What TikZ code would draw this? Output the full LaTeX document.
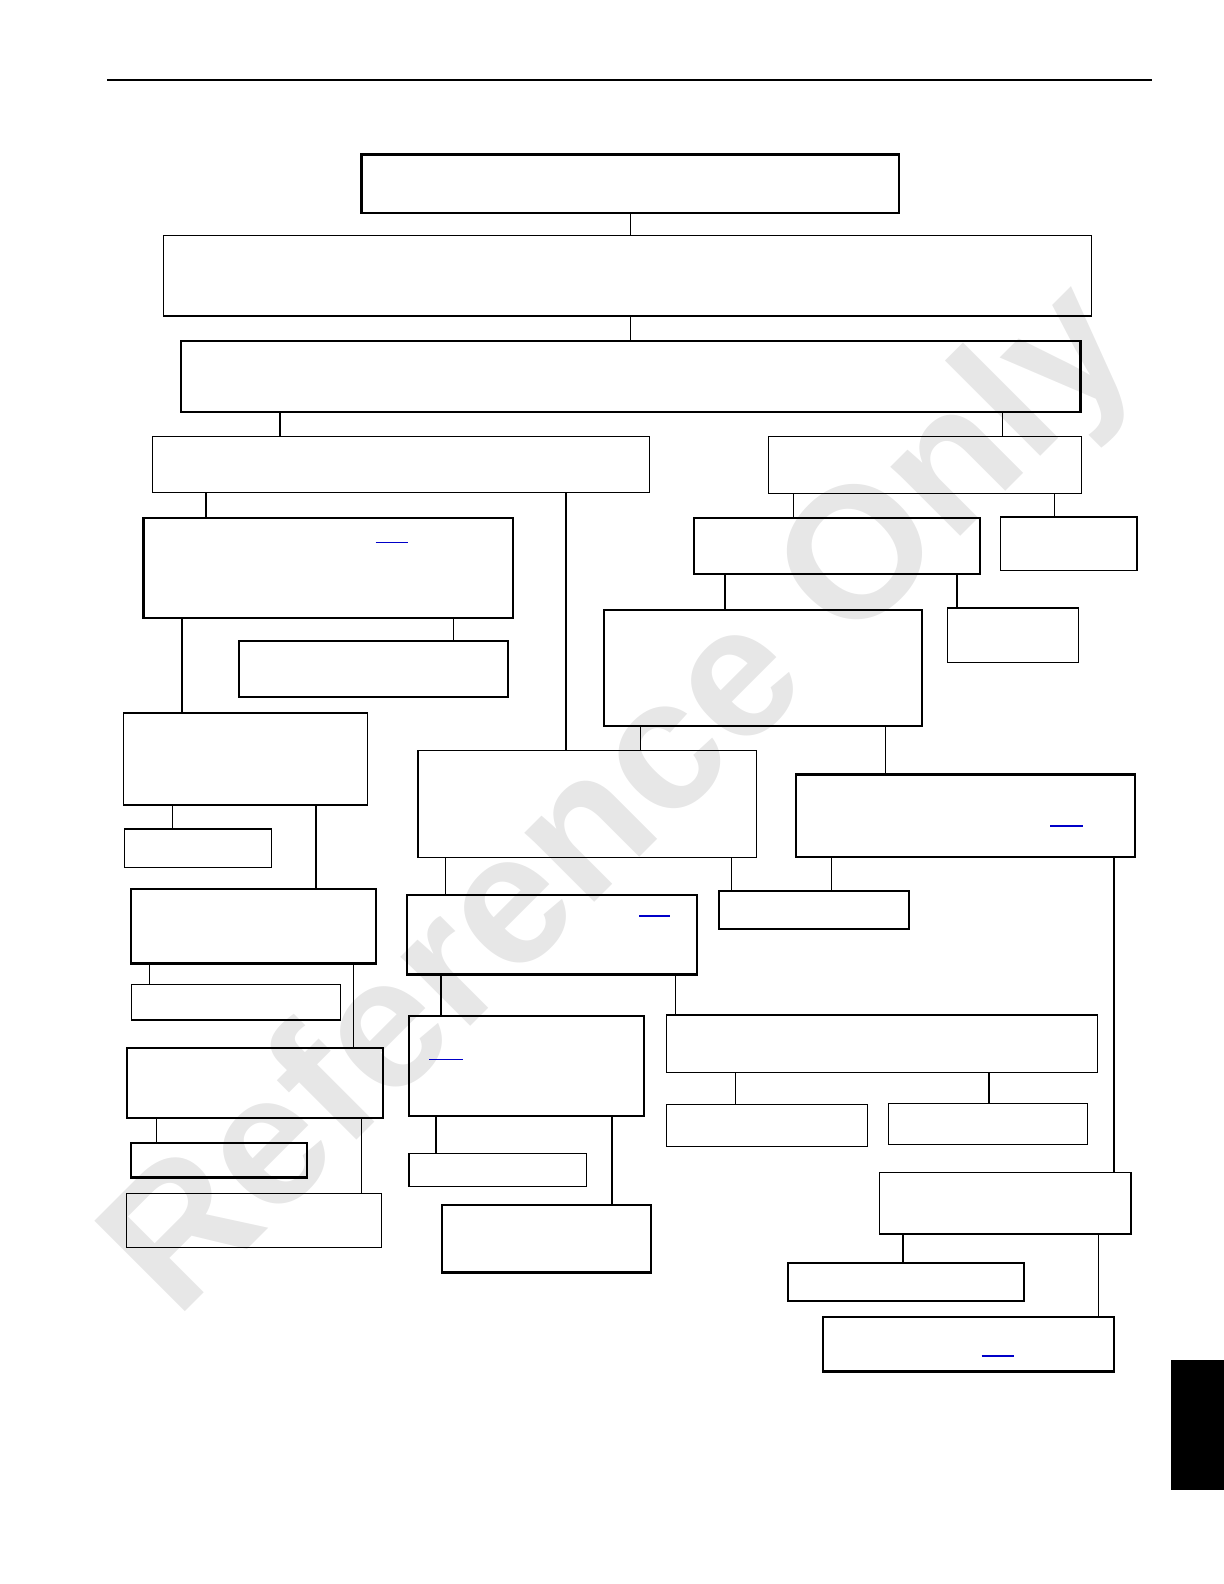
\documentclass[tikz,border=0pt]{standalone}
\usepackage{fontspec}
\usetikzlibrary{fit}
\newfontfamily\wmfont{Liberation Sans}
\definecolor{wmgray}{RGB}{231,231,231}
\definecolor{lnkblue}{RGB}{0,0,200}
\tikzset{%
    bxa/.style={draw, line width=2.2pt, inner sep=0pt},
    bxb/.style={draw, line width=1.3pt, inner sep=0pt},
    con/.style={line width=1.2pt},
    cona/.style={line width=2pt},
    lnk/.style={line width=1.6pt, lnkblue},
    wm/.style={text=wmgray, inner sep=0pt, font=\wmfont\bfseries\fontsize{186}{186}\selectfont},
}

\begin{document}
\begin{tikzpicture}[x=1.0099pt, y=-1.0099pt]
    \useasboundingbox (0,0) rectangle (1212,1568.5);
    \node[wm, rotate=45] (wmk) at (619,796) {Reference Only};
    \draw[line width=2pt] (106,79) -- (1141,79);
    \fill (1160,1347) rectangle (1212,1475);
    % boxes
    \node[bxa, fit={(358,153) (890,211)}] (b1) {};
    \node[bxb, fit={(162,233) (1081,313)}] (b2) {};
    \node[bxa, fit={(179,338) (1070,408)}] (b3) {};
    \node[bxb, fit={(151,432) (643,488)}] (b4) {};
    \node[bxb, fit={(761,432) (1071,489)}] (b5) {};
    \node[bxa, fit={(142,513) (508,612)}] (b6) {};
    \node[bxa, fit={(237,635) (503,690)}] (b7) {};
    \node[bxa, fit={(687,513) (970,568)}] (b8) {};
    \node[bxb, fit={(991,512) (1126,565)}] (b9) {};
    \node[bxa, fit={(598,604) (913,719)}] (b10) {};
    \node[bxb, fit={(938,602) (1068,656)}] (b11) {};
    \node[bxb, fit={(122,706) (364,797)}] (b12) {};
    \node[bxb, fit={(123,821) (269,859)}] (b13) {};
    \node[bxb, fit={(414,743) (749,849)}] (b14) {};
    \node[bxa, fit={(788,767) (1124,849)}] (b15) {};
    \node[bxa, fit={(130,880) (372,954)}] (b16) {};
    \node[bxa, fit={(712,882) (900,920)}] (b17) {};
    \node[bxa, fit={(403,886) (690,965)}] (b18) {};
    \node[bxb, fit={(130,975) (337,1010)}] (b19) {};
    \node[bxa, fit={(126,1038) (379,1107)}] (b20) {};
    \node[bxa, fit={(405,1006) (638,1105)}] (b21) {};
    \node[bxb, fit={(660,1005) (1087,1062)}] (b22) {};
    \node[bxa, fit={(130,1132) (304,1166)}] (b23) {};
    \node[bxb, fit={(125,1182) (378,1235)}] (b24) {};
    \node[bxb, fit={(405,1142) (581,1175)}] (b25) {};
    \node[bxb, fit={(660,1094) (859,1135)}] (b26) {};
    \node[bxb, fit={(880,1093) (1077,1133)}] (b27) {};
    \node[bxa, fit={(438,1193) (645,1260)}] (b28) {};
    \node[bxb, fit={(871,1161) (1120,1222)}] (b29) {};
    \node[bxa, fit={(780,1251) (1014,1288)}] (b30) {};
    \node[bxa, fit={(815,1304) (1103,1358)}] (b31) {};
    % links
    \draw[lnk] (372,537) -- (404,537);
    \draw[lnk] (1040,818) -- (1072,818);
    \draw[lnk] (633,907) -- (663,907);
    \draw[lnk] (425,1049) -- (458,1049);
    \draw[lnk] (972,1343) -- (1004,1343);
    % connectors
    \draw[con] (624,0 |- b1.south) -- (624,0 |- b2.north);
    \draw[con] (624,0 |- b2.south) -- (624,0 |- b3.north);
    \draw[cona] (277,0 |- b3.south) -- (277,0 |- b4.north);
    \draw[con] (993,0 |- b3.south) -- (993,0 |- b5.north);
    \draw[con] (204,0 |- b4.south) -- (204,0 |- b6.north);
    \draw[cona] (560,0 |- b4.south) -- (560,0 |- b14.north);
    \draw[con] (786,0 |- b5.south) -- (786,0 |- b8.north);
    \draw[con] (1044,0 |- b5.south) -- (1044,0 |- b9.north);
    \draw[cona] (180,0 |- b6.south) -- (180,0 |- b12.north);
    \draw[con] (449,0 |- b6.south) -- (449,0 |- b7.north);
    \draw[cona] (718,0 |- b8.south) -- (718,0 |- b10.north);
    \draw[cona] (948,0 |- b8.south) -- (948,0 |- b11.north);
    \draw[con] (634,0 |- b10.south) -- (634,0 |- b14.north);
    \draw[con] (877,0 |- b10.south) -- (877,0 |- b15.north);
    \draw[con] (171,0 |- b12.south) -- (171,0 |- b13.north);
    \draw[cona] (313,0 |- b12.south) -- (313,0 |- b16.north);
    \draw[con] (441,0 |- b14.south) -- (441,0 |- b18.north);
    \draw[con] (724,0 |- b14.south) -- (724,0 |- b17.north);
    \draw[con] (823,0 |- b15.south) -- (823,0 |- b17.north);
    \draw[con] (1103,0 |- b15.south) -- (1103,0 |- b29.north);
    \draw[con] (148,0 |- b16.south) -- (148,0 |- b19.north);
    \draw[con] (350,0 |- b16.south) -- (350,0 |- b20.north);
    \draw[cona] (437,0 |- b18.south) -- (437,0 |- b21.north);
    \draw[con] (669,0 |- b18.south) -- (669,0 |- b22.north);
    \draw[con] (155,0 |- b20.south) -- (155,0 |- b23.north);
    \draw[con] (358,0 |- b20.south) -- (358,0 |- b24.north);
    \draw[cona] (432,0 |- b21.south) -- (432,0 |- b25.north);
    \draw[cona] (606,0 |- b21.south) -- (606,0 |- b28.north);
    \draw[con] (728,0 |- b22.south) -- (728,0 |- b26.north);
    \draw[cona] (979,0 |- b22.south) -- (979,0 |- b27.north);
    \draw[cona] (894,0 |- b29.south) -- (894,0 |- b30.north);
    \draw[con] (1088,0 |- b29.south) -- (1088,0 |- b31.north);
\end{tikzpicture}
\end{document}
